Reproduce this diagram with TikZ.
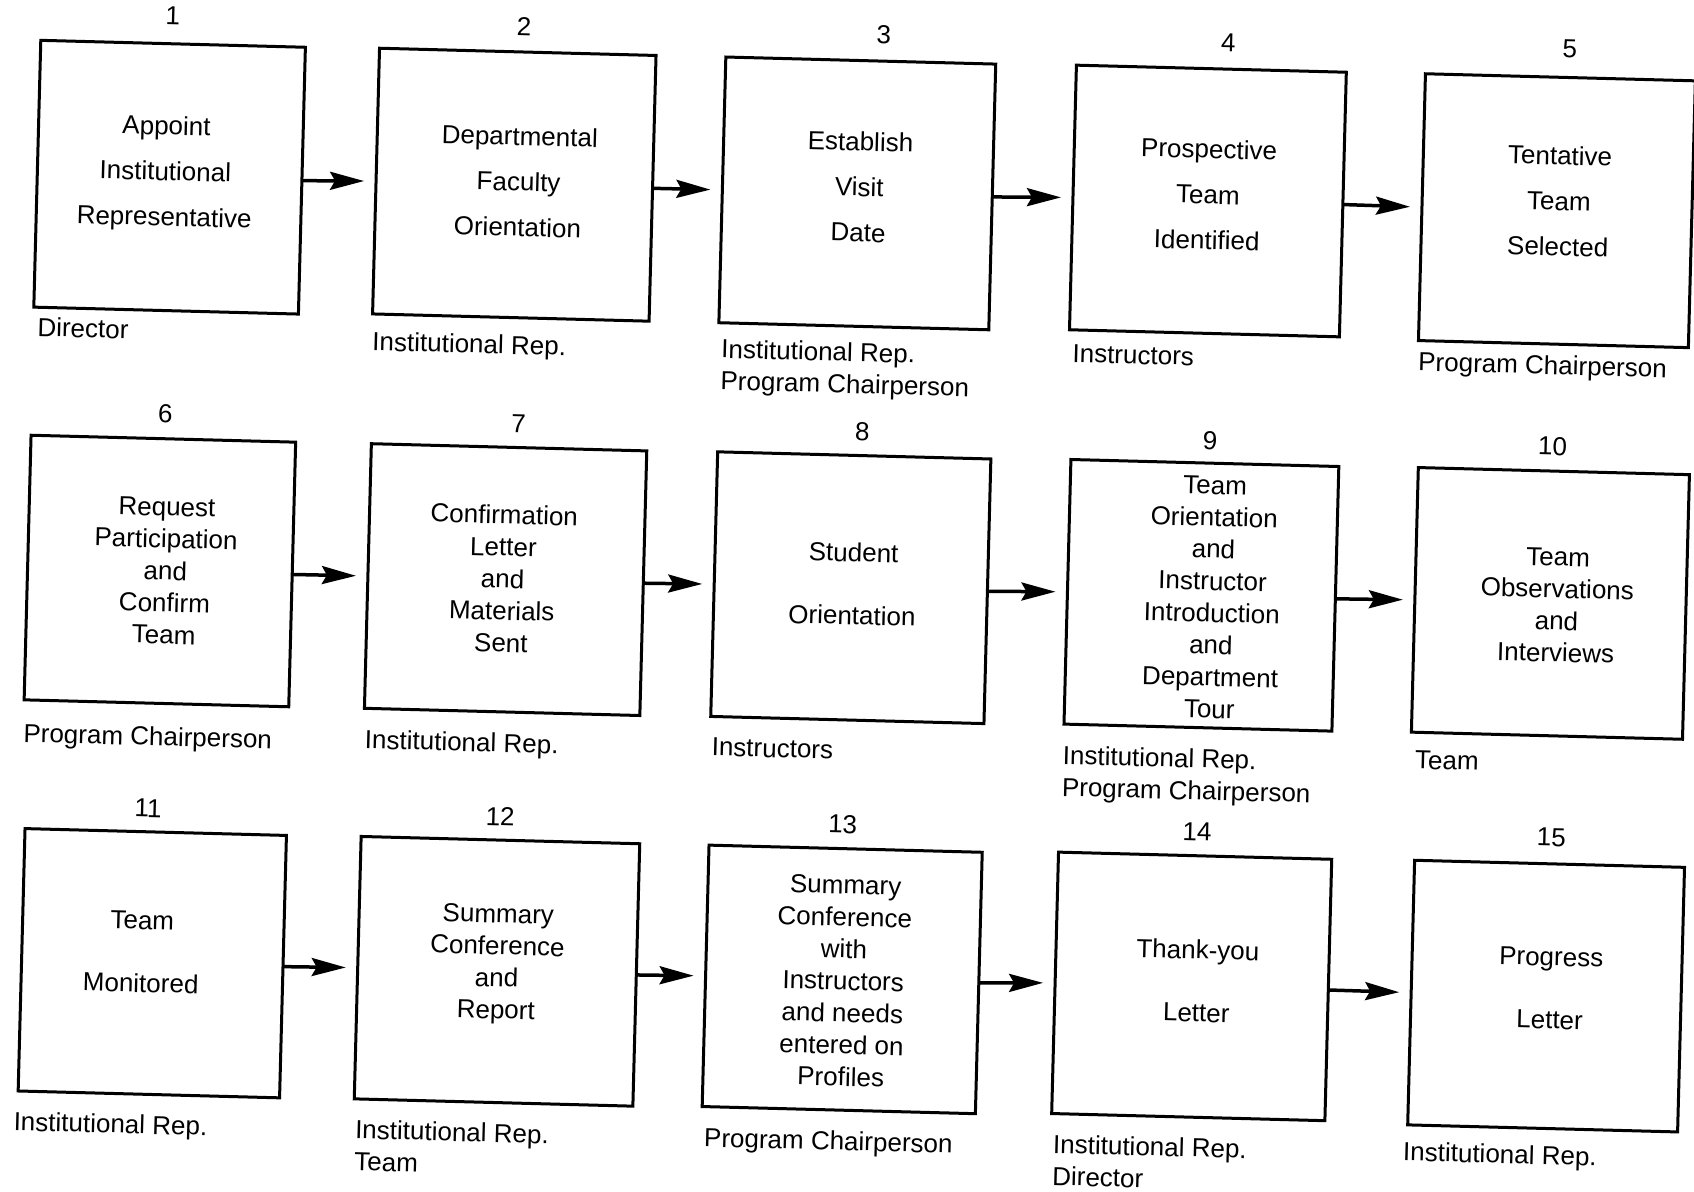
\documentclass[tikz,border=0pt]{standalone}
\usepackage{fontspec}
\setmainfont{Liberation Sans}
\usetikzlibrary{arrows.meta}
\begin{document}
\begin{tikzpicture}[x=1pt,y=-1pt,
  every node/.style={inner sep=0pt,outer sep=0pt},
  stepbox/.style={draw=black,line width=3pt,rotate=-1.5},
  steptext/.style={align=center,rotate=-1.5},
  sa/.style={font=\fontsize{26}{32}\selectfont},
  sb/.style={font=\fontsize{26}{45.5}\selectfont},
  sc/.style={font=\fontsize{26}{63}\selectfont},
  num/.style={font=\fontsize{26}{30}\selectfont,rotate=-1.5},
  role/.style={font=\fontsize{26}{32}\selectfont,align=left,anchor=north west,rotate=-1.5},
  arr/.style={line width=3.5pt,-{Stealth[length=34pt,width=18pt,inset=5pt]},shorten >=12pt}
]
\fill[white] (0,0) rectangle (1694,1191);
\useasboundingbox (0,0) rectangle (1694,1191);

% ---- first row: steps 1-5
\node[stepbox,minimum width=264.7pt,minimum height=266.9pt] (b1) at (169.6,177.2) {};
\node[stepbox,minimum width=276.6pt,minimum height=265.8pt] (b2) at (514.3,184.7) {};
\node[stepbox,minimum width=270pt,minimum height=265.8pt] (b3) at (857.3,193.4) {};
\node[stepbox,minimum width=270pt,minimum height=264.7pt] (b4) at (1207.9,201.0) {};
\node[stepbox,minimum width=270pt,minimum height=266.9pt] (b5) at (1556.9,210.7) {};
\node[steptext,sb] (t1) at ([shift={(-4.3,-3.6)}]b1.center) {Appoint\\Institutional\\Representative};
\node[steptext,sb] (t2) at ([shift={(4.3,-3.2)}]b2.center) {Departmental\\Faculty\\Orientation};
\node[steptext,sb] (t3) at ([shift={(2,-6.5)}]b3.center) {Establish\\Visit\\Date};
\node[steptext,sb] (t4) at ([shift={(0,-6.5)}]b4.center) {Prospective\\Team\\Identified};
\node[steptext,sb] (t5) at ([shift={(2,-9.7)}]b5.center) {Tentative\\Team\\Selected};

% ---- second row: steps 6-10
\node[stepbox,minimum width=264.7pt,minimum height=264.7pt] (b6) at (159.9,571.0) {};
\node[stepbox,minimum width=275.5pt,minimum height=264.7pt] (b7) at (505.6,579.6) {};
\node[stepbox,minimum width=273.3pt,minimum height=264.7pt] (b8) at (850.8,587.7) {};
\node[stepbox,minimum width=268pt,minimum height=264.7pt] (b9) at (1201.4,595.3) {};
\node[stepbox,minimum width=271.2pt,minimum height=264.7pt] (b10) at (1550.4,603.4) {};
\node[steptext,sa] (t6) at ([shift={(5.4,0)}]b6.center) {Request\\Participation\\and\\Confirm\\Team};
\node[steptext,sa] (t7) at ([shift={(-3,-1)}]b7.center) {Confirmation\\Letter\\and\\Materials\\Sent};
\node[steptext,sc] (t8) at ([shift={(2,-3.8)}]b8.center) {Student\\Orientation};
\node[steptext,sa] (t9) at ([shift={(10.8,2)}]b9.center) {Team\\Orientation\\and\\Instructor\\Introduction\\and\\Department\\Tour};
\node[steptext,sa] (t10) at ([shift={(6.5,1.6)}]b10.center) {Team\\Observations\\and\\Interviews};

% ---- third row: steps 11-15
\node[stepbox,minimum width=261.5pt,minimum height=262.5pt] (b11) at (152.3,963.2) {};
\node[stepbox,minimum width=278.7pt,minimum height=262.5pt] (b12) at (497.0,971.3) {};
\node[stepbox,minimum width=273.3pt,minimum height=261.5pt] (b13) at (842.2,979.4) {};
\node[stepbox,minimum width=273.3pt,minimum height=261.5pt] (b14) at (1191.7,986.4) {};
\node[stepbox,minimum width=270pt,minimum height=264.7pt] (b15) at (1546.1,996.1) {};
\node[steptext,sc] (t11) at ([shift={(-10.8,-11.3)}]b11.center) {Team\\Monitored};
\node[steptext,sa] (t12) at ([shift={(0,-7)}]b12.center) {Summary\\Conference\\and\\Report};
\node[steptext,sa] (t13) at ([shift={(1,1.6)}]b13.center) {Summary\\Conference\\with\\Instructors\\and needs\\entered on\\Profiles};
\node[steptext,sc] (t14) at ([shift={(5.4,-5.4)}]b14.center) {Thank-you\\Letter};
\node[steptext,sc] (t15) at ([shift={(4.3,-7.6)}]b15.center) {Progress\\Letter};

% ---- step numbers
\node[num] (n1) at (172.9,16.2) {1};
\node[num] (n2) at (524,27) {2};
\node[num] (n3) at (883.8,34.6) {3};
\node[num] (n4) at (1228.4,43.2) {4};
\node[num] (n5) at (1569.8,48.6) {5};
\node[num] (n6) at (165.3,413.8) {6};
\node[num] (n7) at (518.6,423.5) {7};
\node[num] (n8) at (862.2,432.2) {8};
\node[num] (n9) at (1210,440.8) {9};
\node[num] (n10) at (1552.5,446.2) {10};
\node[num] (n11) at (148,808.1) {11};
\node[num] (n12) at (500.2,816.8) {12};
\node[num] (n13) at (842.7,824.3) {13};
\node[num] (n14) at (1197.1,831.9) {14};
\node[num] (n15) at (1551.4,837.3) {15};

% ---- who is responsible for each step
\node[role] (r1) at (37.8,317.5) {Director};
\node[role] (r2) at (372.7,331.6) {Institutional Rep.};
\node[role] (r3) at (721.7,339.1) {Institutional Rep.\\Program Chairperson};
\node[role] (r4) at (1072.8,344.5) {Instructors};
\node[role] (r5) at (1418.6,352.1) {Program Chairperson};
\node[role] (r6) at (23.8,723.3) {Program Chairperson};
\node[role] (r7) at (365.2,729.7) {Institutional Rep.};
\node[role] (r8) at (712,737.8) {Instructors};
\node[role] (r9) at (1063.1,745.4) {Institutional Rep.\\Program Chairperson};
\node[role] (r10) at (1415.3,750.8) {Team};
\node[role] (r11) at (14,1111.6) {Institutional Rep.};
\node[role] (r12) at (355.5,1119.7) {Institutional Rep.\\Team};
\node[role] (r13) at (704.4,1127.8) {Program Chairperson};
\node[role] (r14) at (1053.4,1134.4) {Institutional Rep.\\Director};
\node[role] (r15) at (1403.4,1141.9) {Institutional Rep.};

% ---- flow arrows
\draw[arr] (b1.east) -- (b2.west);
\draw[arr] (b2.east) -- (b3.west);
\draw[arr] (b3.east) -- (b4.west);
\draw[arr] (b4.east) -- (b5.west);
\draw[arr] (b6.east) -- (b7.west);
\draw[arr] (b7.east) -- (b8.west);
\draw[arr] (b8.east) -- (b9.west);
\draw[arr] (b9.east) -- (b10.west);
\draw[arr] (b11.east) -- (b12.west);
\draw[arr] (b12.east) -- (b13.west);
\draw[arr] (b13.east) -- (b14.west);
\draw[arr] (b14.east) -- (b15.west);
\end{tikzpicture}
\end{document}
